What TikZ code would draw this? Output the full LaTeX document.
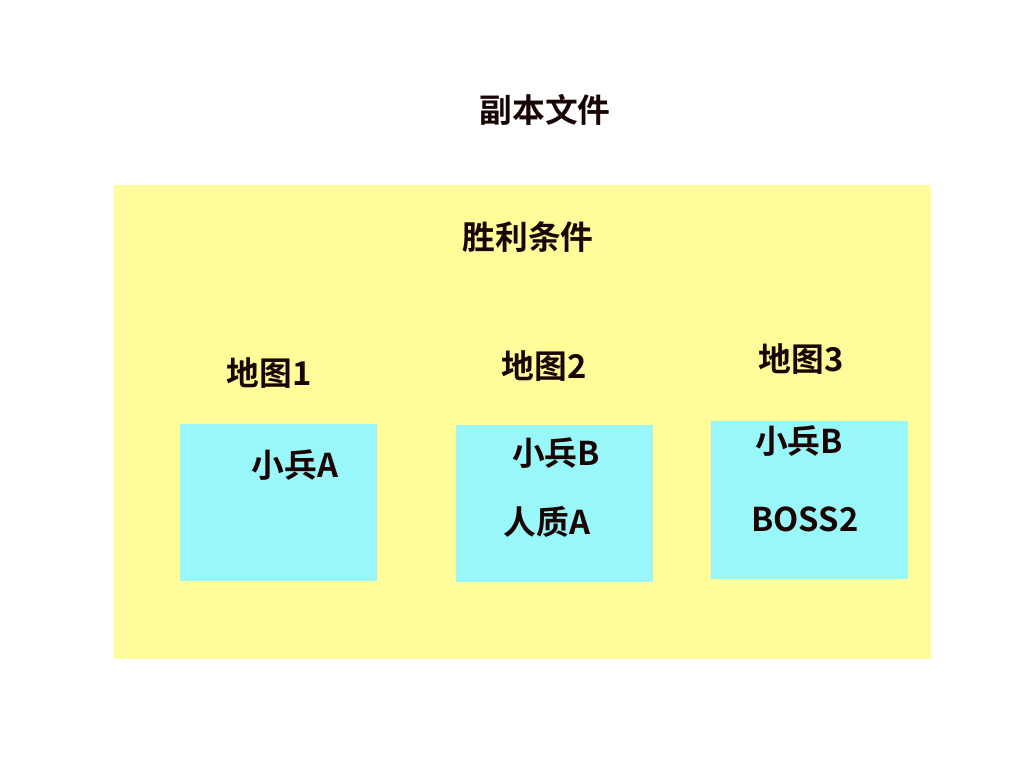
\documentclass[tikz,border=0pt]{standalone}
\usepackage{fontspec}
\setmainfont{Noto Sans CJK SC}[BoldFont={Noto Sans CJK SC Bold}]
\usetikzlibrary{positioning}
\definecolor{panelyellow}{HTML}{FFFC99}
\definecolor{mapcyan}{HTML}{99F7FA}
\definecolor{inkdark}{HTML}{1A0505}

\begin{document}
\begin{tikzpicture}[x=0.025cm, y=-0.025cm,
    label text/.style={text=inkdark, font=\bfseries\fontsize{23.3}{27}\selectfont, inner sep=0pt},
    map box/.style={fill=mapcyan, draw=none, minimum width=4.925cm, minimum height=3.925cm, inner sep=0pt}]
\useasboundingbox (0,0) rectangle (1024,768);

% Outer panel
\fill[panelyellow] (114,185) rectangle (931,659);

% Titles
\node[label text] (title) at (545,110) {副本文件};
\node[label text] (victory) at (528,237) {胜利条件};

% Map boxes
\node[map box] (mapA) at (278.5,502.5) {};
\node[map box] (mapB) at (554.5,503.5) {};
\node[map box] (mapC) at (809.5,500) {};

% Map headings
\node[label text] (headA) at (269,373) {地图1};
\node[label text] (headB) at (544,366) {地图2};
\node[label text] (headC) at (801,359) {地图3};

% Box contents
\node[label text] (soldierA) at (295,465) {小兵A};
\node[label text] (soldierB) at (556,453) {小兵B};
\node[label text] (hostageA) at (547,522) {人质A};
\node[label text] (soldierB2) at (799,441) {小兵B};
\node[label text] (boss) at (805,519) {BOSS2};
\end{tikzpicture}
\end{document}
